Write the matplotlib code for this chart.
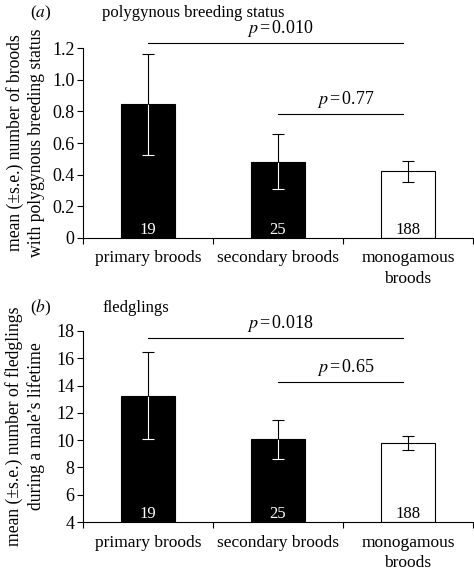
import numpy as np
import matplotlib
matplotlib.use("Agg")
import matplotlib.pyplot as plt

plt.rcParams['font.family'] = ['Liberation Serif', 'DejaVu Serif']
plt.rcParams['mathtext.fontset'] = 'stix'

categories = ["primary broods", "secondary broods", "monogamous\nbroods"]
sample_n = ["19", "25", "188"]
bar_colors = ["black", "black", "white"]

poly_mean = [0.845, 0.482, 0.420]
poly_se = [0.32, 0.175, 0.066]
fledge_mean = [13.25, 10.08, 9.80]
fledge_se = [3.18, 1.43, 0.50]

poly_p = [("0.010", 0, 2), ("0.77", 1, 2)]
fledge_p = [("0.018", 0, 2), ("0.65", 1, 2)]

fig = plt.figure(figsize=(4.74, 5.72), dpi=100)
ax_a = fig.add_axes([0.175, 0.584, 0.823, 0.332])
ax_b = fig.add_axes([0.175, 0.0874, 0.823, 0.334])

fs = 12


def draw_panel(ax, means, ses, base, ylim, yticks, ytl, pvals, p_y, ylabel, tag, title, title_y):
    x = np.arange(len(means))
    heights = [m - base for m in means]
    ax.bar(x, heights, bottom=base, width=0.41, color=bar_colors,
           edgecolor="black", linewidth=0.8, zorder=2)
    cw = 0.045
    for xi, m, s, c in zip(x, means, ses, bar_colors):
        low_c = "white" if c == "black" else "black"
        ax.vlines(xi, m - s, m, color=low_c, lw=0.8, zorder=3)
        ax.hlines(m - s, xi - cw, xi + cw, color=low_c, lw=0.8, zorder=3)
        ax.vlines(xi, m, m + s, color="black", lw=0.8, zorder=3)
        ax.hlines(m + s, xi - cw, xi + cw, color="black", lw=0.8, zorder=3)
    for xi, n, c in zip(x, sample_n, bar_colors):
        tc = "white" if c == "black" else "black"
        ax.text(xi, base, n, ha="center", va="bottom", color=tc, fontsize=fs, zorder=4)
    ax.set_xlim(-0.5, 2.5)
    ax.set_ylim(*ylim)
    ax.set_yticks(yticks)
    ax.set_yticklabels(ytl, fontsize=fs + 1)
    ax.set_xticks(x)
    ax.set_xticklabels(categories, fontsize=fs + 0.5, linespacing=1.35)
    ax.set_xticks([-0.5, 0.5, 1.5, 2.5], minor=True)
    ax.tick_params(axis="x", which="major", length=0, pad=9)
    ax.tick_params(axis="x", which="minor", length=4, width=0.8)
    ax.tick_params(axis="y", length=4, width=0.8, pad=2)
    for sp in ["top", "right"]:
        ax.spines[sp].set_visible(False)
    ax.spines["left"].set_linewidth(0.8)
    ax.spines["bottom"].set_linewidth(0.8)
    for (ptxt, i0, i1), yy in zip(pvals, p_y):
        ax.plot([i0, i1 - 0.04], [yy, yy], color="black", lw=0.8, clip_on=False)
        ax.annotate(r"$p\,$=$\,$" + ptxt, xy=((i0 + i1) / 2 + 0.02, yy),
                    xytext=(0, 3), textcoords="offset points",
                    ha="center", va="bottom", fontsize=fs + 1, annotation_clip=False)
    ax.set_ylabel(ylabel, fontsize=fs + 0.7, linespacing=1.3)
    ax.yaxis.set_label_coords(-0.098, 0.5)
    ax.text(-0.136, title_y, tag, transform=ax.transAxes, fontsize=fs + 0.5,
            ha="left", va="center")
    ax.text(0.049, title_y, title, transform=ax.transAxes, fontsize=fs,
            ha="left", va="center")


draw_panel(ax_a, poly_mean, poly_se, 0, (0, 1.2),
           [0, 0.2, 0.4, 0.6, 0.8, 1.0, 1.2],
           ["0", "0.2", "0.4", "0.6", "0.8", "1.0", "1.2"],
           poly_p, [1.232, 0.783],
           "mean (±s.e.) number of broods\nwith polygynous breeding status",
           "($a$)", "polygynous breeding status", 1.185)

draw_panel(ax_b, fledge_mean, fledge_se, 4, (4, 18),
           [4, 6, 8, 10, 12, 14, 16, 18],
           ["4", "6", "8", "10", "12", "14", "16", "18"],
           fledge_p, [17.5, 14.24],
           "mean (±s.e.) number of fledglings\nduring a male’s lifetime",
           "($b$)", "fledglings", 1.12)

fig.savefig("out.png", dpi=100)
